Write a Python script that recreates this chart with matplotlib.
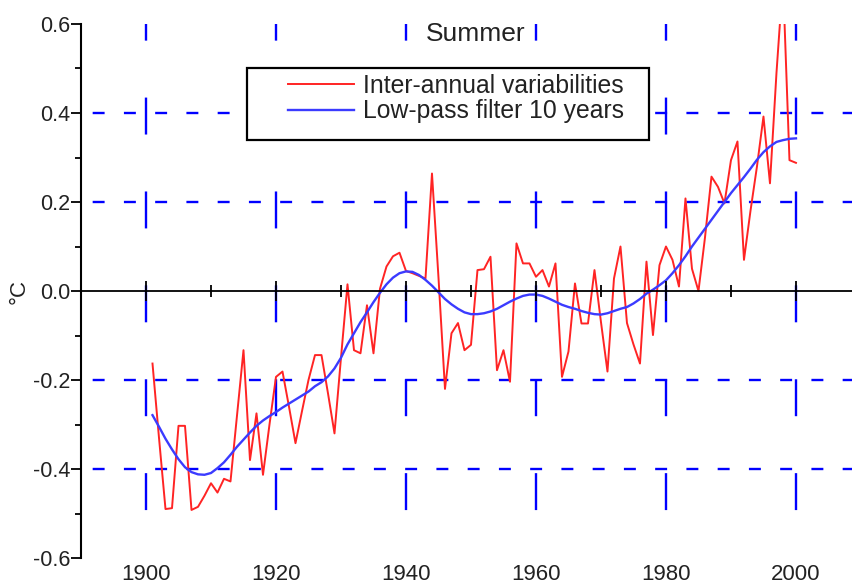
import matplotlib
matplotlib.use("Agg")
import matplotlib.pyplot as plt
import matplotlib.patches as mpatches
from matplotlib.ticker import MultipleLocator, FixedLocator, FormatStrFormatter

plt.rcParams['font.family'] = ['Liberation Sans', 'DejaVu Sans']
plt.rcParams['lines.scale_dashes'] = False

# ---------------- data ----------------
years = list(range(1901, 2001))
annual = [
    -0.163, -0.33, -0.49, -0.488, -0.303, -0.303, -0.492, -0.485, -0.46, -0.432,   # 1901-1910
    -0.453, -0.422, -0.428, -0.28, -0.133, -0.38, -0.275, -0.413, -0.30, -0.193,   # 1911-1920
    -0.181, -0.26, -0.342, -0.27, -0.20, -0.144, -0.144, -0.23, -0.32, -0.15,      # 1921-1930
    0.015, -0.133, -0.14, -0.032, -0.14, 0.005, 0.055, 0.078, 0.086, 0.045,        # 1931-1940
    0.04, 0.034, 0.028, 0.264, 0.03, -0.22, -0.095, -0.072, -0.133, -0.121,        # 1941-1950
    0.047, 0.049, 0.077, -0.178, -0.133, -0.204, 0.107, 0.062, 0.062, 0.032,       # 1951-1960
    0.047, 0.01, 0.062, -0.193, -0.136, 0.017, -0.073, -0.073, 0.047, -0.07,       # 1961-1970
    -0.181, 0.028, 0.1, -0.072, -0.12, -0.163, 0.066, -0.099, 0.058, 0.1,          # 1971-1980
    0.07, 0.01, 0.208, 0.05, 0.0, 0.12, 0.257, 0.234, 0.197, 0.294,                # 1981-1990
    0.336, 0.07, 0.18, 0.28, 0.392, 0.242, 0.49, 0.70, 0.294, 0.288,               # 1991-2000
]
lowpass = [
    -0.279, -0.305, -0.332, -0.356, -0.378, -0.396, -0.407, -0.412, -0.413, -0.409,
    -0.398, -0.385, -0.368, -0.350, -0.334, -0.318, -0.303, -0.291, -0.281, -0.272,
    -0.262, -0.253, -0.244, -0.235, -0.226, -0.214, -0.205, -0.192, -0.174, -0.150,
    -0.120, -0.095, -0.070, -0.048, -0.025, -0.004, 0.015, 0.030, 0.040, 0.044,
    0.043, 0.036, 0.025, 0.012, -0.003, -0.018, -0.030, -0.040, -0.048, -0.052,
    -0.052, -0.050, -0.046, -0.040, -0.032, -0.024, -0.017, -0.011, -0.008, -0.008,
    -0.011, -0.017, -0.024, -0.031, -0.036, -0.040, -0.045, -0.049, -0.052, -0.053,
    -0.050, -0.045, -0.040, -0.036, -0.028, -0.018, -0.006, 0.003, 0.013, 0.024,
    0.040, 0.058, 0.078, 0.100, 0.120, 0.140, 0.160, 0.180, 0.200, 0.220,
    0.238, 0.256, 0.275, 0.295, 0.312, 0.325, 0.335, 0.339, 0.342, 0.343,
]
series_labels = ['Inter-annual variabilities', 'Low-pass filter 10 years']
title_text = 'Summer'
y_label = '°C'
x_ticks = [1900, 1920, 1940, 1960, 1980, 2000]
y_ticks = [-0.6, -0.4, -0.2, 0.0, 0.2, 0.4, 0.6]
grid_y = [-0.4, -0.2, 0.2, 0.4]

# ---------------- figure ----------------
W, H = 852, 584
fig = plt.figure(figsize=(W / 100, H / 100), dpi=100)
ax = fig.add_axes([81 / W, 1 - 558 / H, (852 - 81) / W, (558 - 24) / H])
ax.set_xlim(1890, 2008.62)
ax.set_ylim(-0.6, 0.6)

for s in ['top', 'right', 'bottom']:
    ax.spines[s].set_visible(False)
ax.spines['left'].set_linewidth(1.5)
ax.spines['left'].set_color('black')

text_color = '#222222'

# y axis
ax.yaxis.set_major_locator(FixedLocator(y_ticks))
ax.yaxis.set_minor_locator(MultipleLocator(0.1))
ax.yaxis.set_major_formatter(FormatStrFormatter('%.1f'))
ax.tick_params(axis='y', which='major', direction='out', length=7, width=1.3,
               labelsize=15.5, labelcolor=text_color, pad=0.5)
ax.tick_params(axis='y', which='minor', direction='out', length=4.3, width=1.3)

# x tick labels at bottom (no marks)
ax.xaxis.set_major_locator(FixedLocator(x_ticks))
ax.tick_params(axis='x', which='both', length=0, labelsize=16,
               labelcolor=text_color, pad=4)

# zero line with ticks
zero_pos = (0 - ax.get_ylim()[0]) / (ax.get_ylim()[1] - ax.get_ylim()[0])
sec = ax.secondary_xaxis(zero_pos)
sec.set_zorder(4.5)
sec.xaxis.set_major_locator(FixedLocator(x_ticks))
sec.xaxis.set_minor_locator(MultipleLocator(10))
for s in sec.spines.values():
    s.set_linewidth(1.3)
    s.set_color('black')
sec.tick_params(axis='x', which='major', direction='inout', length=14.4, width=1.3,
                labeltop=False, labelbottom=False)
sec.tick_params(axis='x', which='minor', direction='inout', length=8, width=1.3)

# dashed blue grid
for gy in grid_y:
    ax.axhline(gy, color='#0000ff', lw=1.7, ls=(14.1, (8.6, 13.9)), zorder=1)
for gx in x_ticks:
    ax.axvline(gx, color='#0000ff', lw=1.7, ls=(33.1, (26.6, 41.0)), zorder=1)

# data
l1, = ax.plot(years, annual, color='#ff2424', lw=1.4, zorder=3, label=series_labels[0])
l2, = ax.plot(years, lowpass, color='#3b3bff', lw=1.7, zorder=4, label=series_labels[1])

# legend frame + legend
rect = mpatches.Rectangle((247 / W, 1 - 140 / H), (649 - 247) / W, 72 / H,
                          transform=fig.transFigure, facecolor='white',
                          edgecolor='black', lw=1.6, zorder=5, clip_on=False)
ax.add_patch(rect)
leg = ax.legend(handles=[l1, l2], loc='upper left',
                bbox_to_anchor=(288 / W, 1 - 74 / H), bbox_transform=fig.transFigure,
                frameon=False, fontsize=17.8, handlelength=2.65, handletextpad=0.38,
                borderpad=0, borderaxespad=0, labelspacing=0.05)
for t in leg.get_texts():
    t.set_color(text_color)
leg.set_zorder(6)

# title and y label
fig.text(476 / W, 1 - 34 / H, title_text, ha='center', va='center',
         fontsize=19, color=text_color)
fig.text(19 / W, 1 - 291 / H, y_label, ha='center', va='center', rotation=90,
         fontsize=16, color=text_color)

fig.savefig('out.png', dpi=100)
